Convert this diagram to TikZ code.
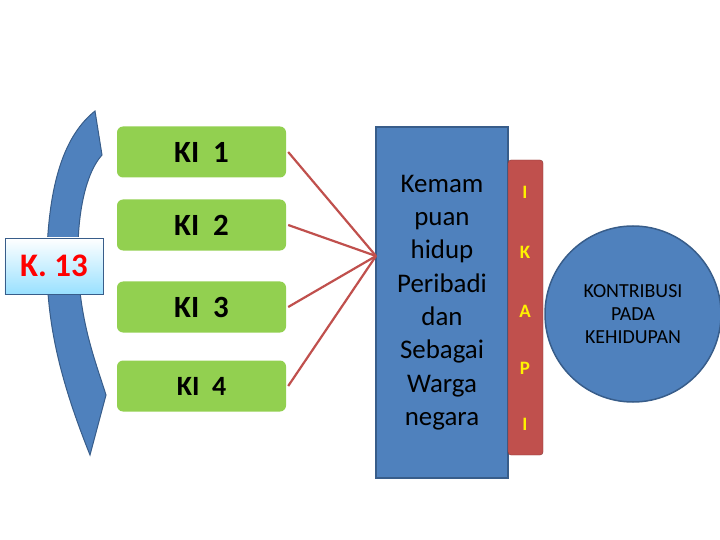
\documentclass[tikz,border=0pt]{standalone}
\usepackage{fontspec}
\setmainfont{Carlito}
\begin{document}
\begin{tikzpicture}[x=1bp,y=-1bp,
  ki/.style={draw=none,fill=kig,rounded corners=6bp,minimum width=169bp,minimum height=51bp,font=\fontsize{31}{34}\selectfont\bfseries},
  link/.style={draw=linkc,line width=2.2bp}]
\definecolor{kig}{HTML}{92D050}
\definecolor{linkc}{HTML}{C0504D}
\definecolor{bluef}{HTML}{4F81BD}
\definecolor{blued}{HTML}{385D8A}
\useasboundingbox (0,0) rectangle (720,540);
% curved arrow
\fill[bluef,draw=blued,line width=1bp] (95,111) -- (102,155)
  .. controls (84,175) and (77,220) .. (78,260)
  .. controls (79,320) and (95,360) .. (106,395)
  -- (90,455)
  .. controls (60,380) and (45,320) .. (47,250)
  .. controls (50,180) and (65,135) .. (95,111) -- cycle;
\node[draw=blued,line width=0.8bp,top color=white,bottom color=blue!30!cyan!40,minimum width=98bp,minimum height=56bp,inner sep=0pt,text=red,font=\fontsize{33}{36}\selectfont\bfseries] (k13) at (54,266) {K. 13};
\node[ki] (ki1) at (201.5,152) {KI\ \ 1};
\node[ki] (ki2) at (201.5,225) {KI\ \ 2};
\node[ki] (ki3) at (201.5,307) {KI\ \ 3};
\node[ki,font=\fontsize{28}{31}\selectfont\bfseries] (ki4) at (201.5,386) {KI\ \ 4};
\node[draw=blued,fill=bluef,line width=1.5bp,minimum width=132bp,minimum height=351bp,inner sep=0pt,align=center,font=\fontsize{27}{33.5}\selectfont] (main) at (442,302.5) {Kemam\\puan\\hidup\\Peribadi\\dan\\Sebagai\\Warga\\negara};
\coordinate (hub) at (376,256);
\foreach \k in {ki1,ki2,ki3,ki4} \draw[link] (\k.east) ++(2,0) -- (hub);
\node[draw=linkc!70!black,fill=linkc,rounded corners=3bp,minimum width=35bp,minimum height=295bp,inner sep=0pt] (strip) at (525.5,307.5) {};
\foreach \t/\y in {I/192,K/252,A/311,P/368,I/424}
  \node[text=yellow,font=\fontsize{19}{21}\selectfont\bfseries] at (525,\y) {\t};
\node[circle,draw=blued,line width=1.5bp,fill=bluef,minimum size=176bp,inner sep=0pt,align=center,font=\fontsize{20}{23}\selectfont] (circ) at (633,314) {KONTRIBUSI\\PADA\\KEHIDUPAN};
\end{tikzpicture}
\end{document}
